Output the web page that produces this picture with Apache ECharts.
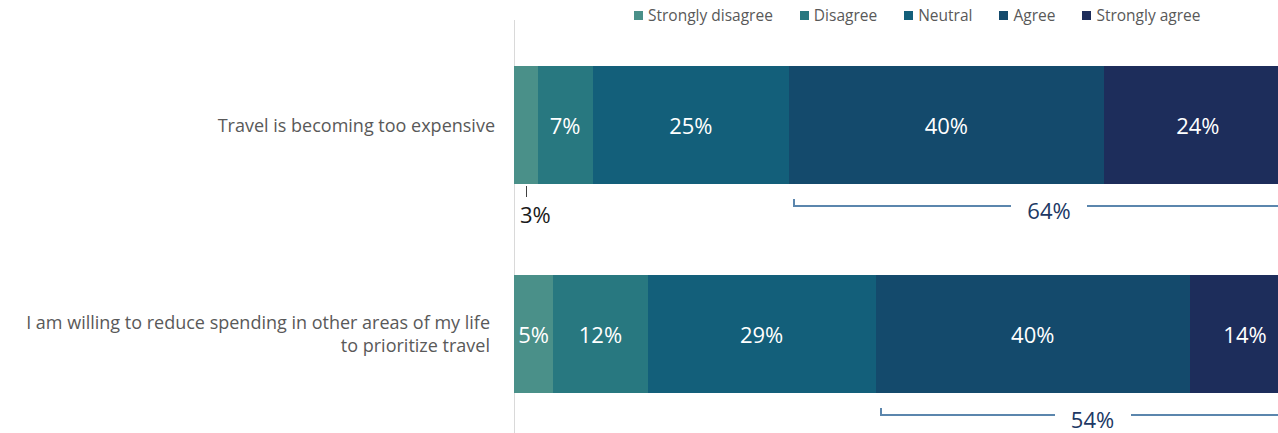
<!DOCTYPE html>
<html>
<head>
<meta charset="utf-8">
<script src="https://cdn.jsdelivr.net/npm/echarts@6/dist/echarts.min.js"></script>
<style>
  html, body { margin: 0; padding: 0; background: #ffffff; }
  #chart { width: 1278px; height: 433px; }
  /* keep adjoining stacked segments free of anti-aliased seams */
  #chart svg path { shape-rendering: crispEdges; }
</style>
</head>
<body>
<div id="chart"></div>
<script>
// Survey statements (top to bottom)
const statements = [
  'Travel is becoming too expensive',
  'I am willing to reduce spending in other areas of my life\nto prioritize travel'
];
const levels = ['Strongly disagree', 'Disagree', 'Neutral', 'Agree', 'Strongly agree'];
const levelColors = ['#4a9089', '#287880', '#135f7a', '#144a6c', '#1d2d5b'];

// Share of respondents (%) per answer level, one value per statement
const stronglyDisagree = [3, 5];
const disagree = [7, 12];
const neutral = [25, 29];
const agree = [40, 40];
const stronglyAgree = [24, 14];

// Net agreement (Agree + Strongly agree) per statement
const netAgree = [64, 54];

const FONT = '"Open Sans", "Noto Sans", sans-serif';
const seriesValues = [stronglyDisagree, disagree, neutral, agree, stronglyAgree];

// Segments too narrow for an inside label get a callout below the bar
const MIN_INSIDE = 4;

const barSeries = levels.map((name, i) => ({
  name: name,
  type: 'bar',
  stack: 'total',
  barWidth: 118,
  itemStyle: { color: levelColors[i] },
  label: {
    show: true,
    position: 'inside',
    color: '#ffffff',
    fontFamily: FONT,
    fontSize: 22,
    formatter: p => (p.value < MIN_INSIDE ? '' : p.value + '%')
  },
  data: seriesValues[i]
}));

// Callouts for narrow segments: [categoryIndex, startValue, value]
const calloutData = [];
statements.forEach((s, ci) => {
  let acc = 0;
  seriesValues.forEach(vals => {
    if (vals[ci] < MIN_INSIDE) calloutData.push([ci, acc, vals[ci]]);
    acc += vals[ci];
  });
});

// Brackets under Agree + Strongly agree: [categoryIndex, start, end, net]
const bracketData = statements.map((s, ci) => {
  const start = stronglyDisagree[ci] + disagree[ci] + neutral[ci];
  return [ci, start, 100, netAgree[ci]];
});

const calloutSeries = {
  type: 'custom',
  name: 'callout',
  silent: true,
  clip: false,
  data: calloutData,
  renderItem: (params, api) => {
    const ci = api.value(0);
    const mid = api.value(1) + api.value(2) / 2;
    const p = api.coord([mid, ci]);
    const x = Math.round(p[0]);
    const top = p[1] + 61;
    return {
      type: 'group',
      children: [
        { type: 'line', shape: { x1: x, y1: top, x2: x, y2: top + 11 },
          style: { stroke: '#404040', lineWidth: 1 } },
        { type: 'text', x: x - 6, y: top + 28,
          style: { text: api.value(2) + '%', fill: '#1a1a1a', font: '22px ' + FONT,
                   textAlign: 'left', textVerticalAlign: 'middle' } }
      ]
    };
  }
};

const bracketSeries = {
  type: 'custom',
  name: 'bracket',
  silent: true,
  clip: false,
  data: bracketData,
  renderItem: (params, api) => {
    const ci = api.value(0);
    const a = api.coord([api.value(1), ci]);
    const b = api.coord([api.value(2), ci]);
    const y = Math.round(a[1] + 81);
    const x1 = Math.round(a[0]) + 5;
    const x2 = b[0];
    const cx = (x1 + x2) / 2 + 2;
    const gap = 38;
    const stroke = '#5b86ad';
    return {
      type: 'group',
      children: [
        { type: 'polyline', shape: { points: [[x1, y - 7], [x1, y], [cx - gap, y]] },
          style: { stroke: stroke, lineWidth: 1.5, fill: null } },
        { type: 'line', shape: { x1: cx + gap, y1: y, x2: x2, y2: y },
          style: { stroke: stroke, lineWidth: 1.5 } },
        { type: 'text', x: cx, y: y + 4,
          style: { text: api.value(3) + '%', fill: '#203864', font: '22px ' + FONT,
                   textAlign: 'center', textVerticalAlign: 'middle' } }
      ]
    };
  }
};

// The two-line statement sits slightly lower and further from the axis
const yAxisData = statements.map((s, i) => (
  i === 1 ? { value: s, textStyle: { padding: [22, 5, 0, 0] } } : s
));

const chart = echarts.init(document.getElementById('chart'), null, { renderer: 'svg' });
chart.setOption({
  animation: false,
  backgroundColor: '#ffffff',
  legend: {
    data: levels,
    top: 2,
    left: 629,
    icon: 'rect',
    itemWidth: 9,
    itemHeight: 9,
    itemGap: 27,
    itemStyle: { borderWidth: 0 },
    textStyle: { color: '#595959', fontFamily: FONT, fontSize: 15.5 }
  },
  grid: { left: 514, top: 20, width: 786, height: 418, containLabel: false, outerBoundsMode: 'none' },
  xAxis: {
    type: 'value',
    min: 0,
    max: 100,
    show: false
  },
  yAxis: {
    type: 'category',
    inverse: true,
    data: yAxisData,
    axisLine: { show: true, lineStyle: { color: '#d9d9d9', width: 1 } },
    axisTick: { show: false },
    axisLabel: {
      color: '#595959',
      fontFamily: FONT,
      fontSize: 18,
      lineHeight: 23,
      margin: 19,
      align: 'right'
    }
  },
  series: [...barSeries, calloutSeries, bracketSeries]
});
</script>
</body>
</html>
